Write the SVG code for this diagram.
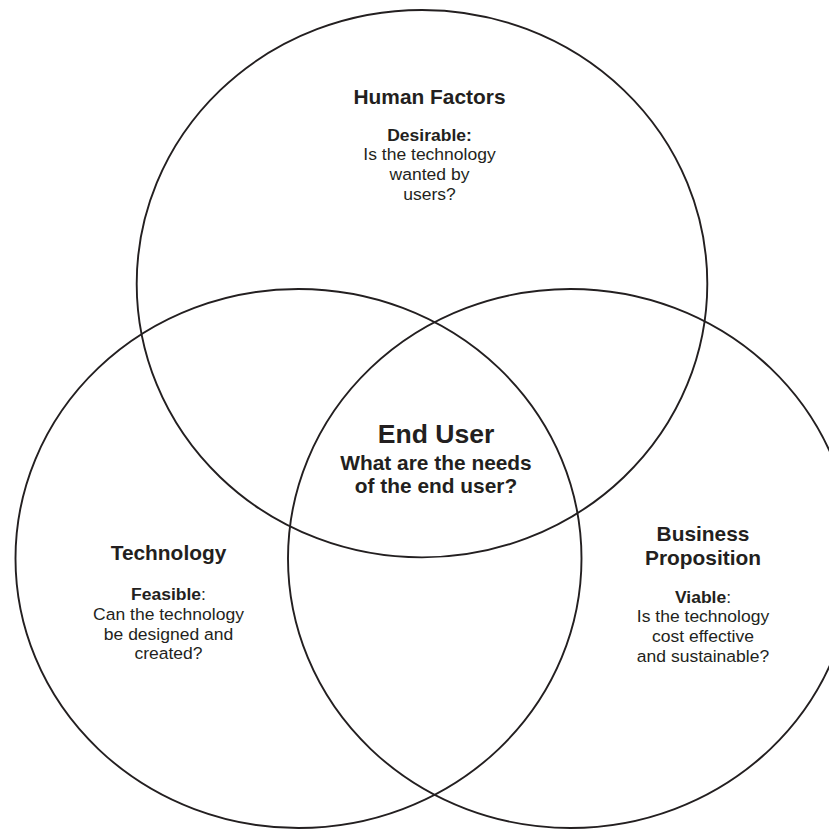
<svg xmlns="http://www.w3.org/2000/svg" width="829" height="835" viewBox="0 0 829 835">
<style>
.c{fill:none;stroke:#231f20;stroke-width:1.9}
text{font-family:"Liberation Sans",Arial,sans-serif;fill:#231f20;text-anchor:middle}
.h{font-weight:bold;font-size:19.8px}
.b{font-size:16.6px}
.bb{font-weight:bold}
.eu{font-weight:bold;font-size:25.2px}
</style>
<rect width="829" height="835" fill="#ffffff"/>
<g id="connectors"></g>
<g id="human-factors">
<ellipse class="c" cx="422" cy="283.7" rx="285.3" ry="273.7"/>
<g transform="translate(429.5,0) scale(1.055,1)">
<text class="h" x="0" y="104">Human Factors</text>
<text class="b bb" x="0" y="141">Desirable:</text>
<text class="b" x="0" y="160.5">Is the technology</text>
<text class="b" x="0" y="180">wanted by</text>
<text class="b" x="0" y="200">users?</text>
</g>
</g>
<g id="technology">
<ellipse class="c" cx="298.5" cy="558.5" rx="283" ry="269.5"/>
<g transform="translate(168.5,0) scale(1.055,1)">
<text class="h" x="0" y="560.5">Technology</text>
<text class="b" x="0" y="600.5"><tspan class="bb">Feasible</tspan>:</text>
<text class="b" x="0" y="620">Can the technology</text>
<text class="b" x="0" y="640">be designed and</text>
<text class="b" x="0" y="659.5">created?</text>
</g>
</g>
<g id="business-proposition">
<ellipse class="c" cx="570.5" cy="558.5" rx="282.5" ry="269.5"/>
<g transform="translate(703,0) scale(1.055,1)">
<text class="h" x="0" y="541">Business</text>
<text class="h" x="0" y="565">Proposition</text>
<text class="b" x="0" y="603"><tspan class="bb">Viable</tspan>:</text>
<text class="b" x="0" y="622.5">Is the technology</text>
<text class="b" x="0" y="642.5">cost effective</text>
<text class="b" x="0" y="662">and sustainable?</text>
</g>
</g>
<g id="end-user">
<g transform="translate(436,0) scale(1.055,1)">
<text class="eu" x="0" y="443.5">End User</text>
<text class="h" x="0" y="470">What are the needs</text>
<text class="h" x="0" y="493.5">of the end user?</text>
</g>
</g>
</svg>
